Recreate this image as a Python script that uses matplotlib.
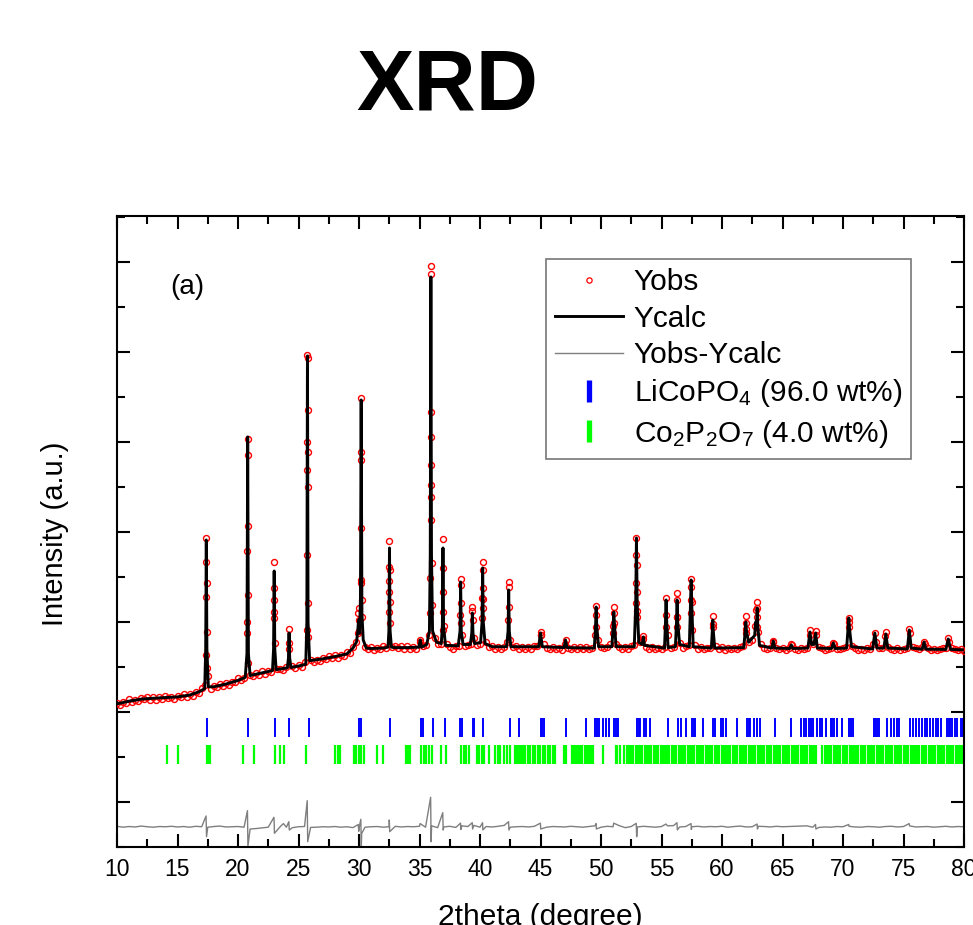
import numpy as np
import matplotlib
matplotlib.use("Agg")
import matplotlib.pyplot as plt
from matplotlib.lines import Line2D
from matplotlib.ticker import MultipleLocator

plt.rcParams['font.family'] = ['Liberation Sans', 'DejaVu Sans']
plt.rcParams['mathtext.fontset'] = 'custom'
plt.rcParams['mathtext.rm'] = 'Liberation Sans'
plt.rcParams['mathtext.it'] = 'Liberation Sans:italic'

# ---------------- data (2theta in degrees, intensity in counts) ----------------
# observed background points, one row per degree (x.00, x.25, x.50, x.75), from 10 to 80
obs_bg_counts = [
    2210, 2160, 2225, 2200,  # 10
    2285, 2230, 2265, 2235,  # 11
    2310, 2280, 2335, 2270,  # 12
    2335, 2275, 2325, 2290,  # 13
    2365, 2305, 2330, 2290,  # 14
    2360, 2335, 2395, 2335,  # 15
    2405, 2365, 2435, 2425,  # 16
    2525, 2600, 2800, 2500,  # 17
    2580, 2560, 2630, 2575,  # 18
    2650, 2605, 2675, 2655,  # 19
    2745, 2705, 2755, 4000,  # 20
    2825, 2810, 2875, 2825,  # 21
    2900, 2850, 2915, 2890,  # 22
    4750, 2960, 2960, 2930,  # 23
    3005, 3400, 3030, 2970,  # 24
    3050, 3010, 3120, 8700,  # 25
    3165, 3115, 3155, 3125,  # 26
    3205, 3180, 3245, 3190,  # 27
    3260, 3210, 3275, 3250,  # 28
    3335, 3320, 3450, 3560,  # 29
    3800, 4100, 3450, 3400,  # 30
    3440, 3380, 3430, 3395,  # 31
    3465, 3430, 4900, 3450,  # 32
    3455, 3420, 3470, 3400,  # 33
    3460, 3395, 3445, 3405,  # 34
    3550, 3470, 3480, 3700,  # 35
    5300, 3650, 3500, 3520,  # 36
    3900, 3500, 3445, 3410,  # 37
    3460, 3470, 3700, 3460,  # 38
    3480, 3500, 3650, 3480,  # 39
    3520, 4500, 3550, 3450,  # 40
    3460, 3400, 3440, 3410,  # 41
    3450, 3550, 3600, 3440,  # 42
    3460, 3405, 3450, 3395,  # 43
    3440, 3410, 3460, 3470,  # 44
    3700, 3520, 3420, 3395,  # 45
    3450, 3400, 3430, 3380,  # 46
    3520, 3430, 3400, 3445,  # 47
    3390, 3440, 3405, 3450,  # 48
    3400, 3430, 3700, 3600,  # 49
    3440, 3415, 3450, 3500,  # 50
    3900, 3500, 3450, 3410,  # 51
    3445, 3400, 3460, 3480,  # 52
    4250, 3550, 3620, 3440,  # 53
    3395, 3440, 3400, 3430,  # 54
    3395, 3450, 3700, 3430,  # 55
    3450, 4100, 3530, 3430,  # 56
    3460, 3480, 4450, 3480,  # 57
    3410, 3440, 3395, 3430,  # 58
    3420, 3950, 3460, 3400,  # 59
    3435, 3385, 3420, 3395,  # 60
    3430, 3400, 3450, 3460,  # 61
    3850, 3550, 3600, 3900,  # 62
    3780, 3500, 3420, 3400,  # 63
    3430, 3560, 3420, 3390,  # 64
    3430, 3380, 3420, 3480,  # 65
    3410, 3380, 3420, 3390,  # 66
    3430, 3700, 3500, 3700,  # 67
    3440, 3420, 3380, 3410,  # 68
    3430, 3500, 3400, 3390,  # 69
    3430, 3450, 4000, 3470,  # 70
    3420, 3380, 3410, 3375,  # 71
    3420, 3400, 3500, 3550,  # 72
    3430, 3430, 3680, 3440,  # 73
    3410, 3380, 3415, 3375,  # 74
    3410, 3420, 3750, 3450,  # 75
    3420, 3390, 3440, 3500,  # 76
    3420, 3380, 3410, 3370,  # 77
    3400, 3420, 3420, 3560,  # 78
    3420, 3400, 3370, 3395,  # 79
    3360,                    # 80
]

# observed points on the Bragg peaks
obs_peak_2theta = [
    17.38, 17.36, 17.40, 17.35, 17.41, 17.34, 17.43,
    20.80, 20.79, 20.81, 20.78, 20.82, 20.77, 20.84,
    22.99, 22.97, 23.01, 22.96, 23.03,
    24.22, 24.20,
    25.74, 25.75, 25.73, 25.76, 25.72, 25.77, 25.71, 25.78, 25.69, 25.80,
    29.96, 29.94, 29.98, 29.90,
    30.18, 30.17, 30.19, 30.16, 30.20, 30.15, 30.22,
    32.52, 32.51, 32.53, 32.50, 32.54, 32.49, 32.56,
    35.06,
    35.94, 35.95, 35.93, 35.96, 35.92, 35.97, 35.91, 35.98, 35.89, 36.00, 35.87,
    36.94, 36.93, 36.95, 36.92, 36.97,
    38.40, 38.39, 38.41, 38.38, 38.43,
    39.37, 39.36, 39.39,
    40.22, 40.21, 40.23, 40.20, 40.24, 40.19,
    42.37, 42.36, 42.39, 42.35,
    45.00, 45.02, 47.07,
    49.60, 49.59, 49.62,
    51.06, 51.05, 51.08, 51.03,
    52.93, 52.92, 52.94, 52.91, 52.95, 52.90, 52.97,
    53.50,
    55.38, 55.37, 55.40,
    56.29, 56.28, 56.31, 56.26,
    57.45, 57.44, 57.46, 57.43, 57.48,
    59.24, 59.26,
    61.97, 61.96, 61.99,
    62.78, 62.91, 62.90, 62.93, 62.88,
    64.24, 65.73, 67.27, 67.74, 69.20,
    70.48, 70.46, 72.63, 73.54, 75.48, 76.70, 78.70,
]
obs_peak_counts = [
    5866, 5333, 4866, 4555, 3778, 3266, 2977,
    8066, 7711, 6133, 5577, 4600, 3755, 3089,
    5333, 4489, 4229, 4081, 3533,
    3844, 3533,
    9933, 9866, 8000, 7777, 7377, 7000, 5489, 4422, 3822, 3666,
    4311, 4200, 4044, 3755,
    8984, 7784, 7600, 6089, 4933, 4866, 4489,
    5806, 5229, 5155, 4673, 4451, 4229, 3977,
    3600,
    11917, 11733, 8673, 8118, 7489, 7044, 6784, 6266, 4977, 4377, 4200,
    5844, 5193, 4673, 4229, 3822,
    4955, 4822, 4415, 4155, 3970,
    4326, 4251, 4044,
    5326, 5155, 4748, 4526, 4304, 4081,
    4881, 4785, 4340, 4044,
    3785, 3700, 3600,
    4355, 4155, 3896,
    4340, 4193, 3970, 3748,
    5859, 5489, 5266, 4859, 4673, 4415, 4118,
    3680,
    4526, 4155, 3896,
    4651, 4489, 4118, 3896,
    4948, 4785, 4489, 4193, 3822,
    4133, 3896,
    4133, 3970, 3748,
    4260, 4451, 4304, 4118, 3896,
    3584, 3500, 3822, 3800, 3540,
    4081, 3896, 3748, 3785, 3837, 3560, 3637,
]

# calculated profile
calc_2theta = [
    10.0, 11.0, 12.0, 13.0, 14.0, 15.0, 16.0, 16.8,
    17.25, 17.33, 17.38, 17.43, 17.55, 18.0, 19.0, 20.0, 20.6,
    20.74, 20.80, 20.86, 21.0, 22.0, 22.85,
    22.94, 22.99, 23.04, 23.15, 24.08,
    24.17, 24.22, 24.27, 24.38, 25.0, 25.6,
    25.69, 25.74, 25.79, 25.92, 27.0, 28.0, 29.0, 29.5, 29.8, 29.9,
    29.96, 30.04, 30.12, 30.18, 30.24, 30.35, 30.6, 31.0, 32.0, 32.4,
    32.47, 32.52, 32.57, 32.68, 33.0, 34.0, 34.95, 35.06, 35.17, 35.6,
    35.82, 35.89, 35.94, 35.99, 36.08, 36.4, 36.8,
    36.89, 36.94, 36.99, 37.15, 38.2,
    38.35, 38.40, 38.45, 38.6, 39.2,
    39.32, 39.37, 39.42, 39.55, 40.05,
    40.17, 40.22, 40.27, 40.42, 41.0, 42.2,
    42.32, 42.37, 42.42, 42.55, 44.85, 45.0, 45.15,
    46.95, 47.07, 47.19, 49.45,
    49.55, 49.60, 49.65, 49.8, 50.9,
    51.0, 51.06, 51.12, 51.25, 52.75,
    52.87, 52.93, 52.99, 53.12, 53.4, 53.5, 53.6, 55.25,
    55.33, 55.38, 55.43, 55.55, 56.15,
    56.24, 56.29, 56.34, 56.5, 57.3,
    57.40, 57.45, 57.50, 57.62, 59.12,
    59.20, 59.24, 59.28, 59.4, 61.8,
    61.92, 61.97, 62.02, 62.2, 62.7, 62.78, 62.85,
    62.91, 62.96, 63.1, 64.12, 64.24, 64.36,
    65.6, 65.73, 65.86, 67.1, 67.27, 67.4, 67.6, 67.74, 67.88,
    69.05, 69.2, 69.35, 70.3,
    70.42, 70.48, 70.54, 70.7, 72.45, 72.63, 72.8,
    73.38, 73.54, 73.7, 75.32, 75.48, 75.64,
    76.55, 76.7, 76.85, 78.5, 78.7, 78.9, 80.0,
]
calc_counts = [
    2180, 2240, 2285, 2305, 2320, 2335, 2375, 2450,
    2520, 3400, 5822, 3400, 2560, 2560, 2620, 2700, 2770,
    3300, 8111, 3300, 2810, 2870, 2920,
    3400, 5133, 3400, 2940, 2980,
    3200, 3755, 3200, 2990, 3020, 3060,
    4000, 9911, 4000, 3140, 3180, 3230, 3290, 3420, 3560, 3800,
    4044, 3750, 4500, 8933, 4200, 3600, 3420, 3410, 3420, 3440,
    3800, 5644, 3800, 3440, 3430, 3430, 3440, 3600, 3440, 3500,
    3800, 5500, 11666, 5500, 3800, 3550, 3520,
    3900, 5644, 3900, 3480, 3470,
    3800, 4888, 3800, 3500, 3500,
    3750, 4200, 3750, 3520, 3540,
    4000, 5200, 4000, 3520, 3450, 3450,
    3800, 4711, 3800, 3450, 3450, 3755, 3450,
    3430, 3600, 3430, 3420,
    3900, 4333, 3900, 3450, 3450,
    3900, 4222, 3900, 3450, 3450,
    4400, 5866, 4400, 3550, 3500, 3666, 3480, 3420,
    4000, 4489, 4000, 3430, 3450,
    4000, 4489, 4000, 3500, 3450,
    4400, 4933, 4400, 3450, 3420,
    3800, 4044, 3800, 3420, 3430,
    3800, 4000, 3800, 3550, 3700, 4000, 3900,
    4311, 3900, 3480, 3420, 3578, 3420,
    3410, 3489, 3410, 3420, 3778, 3500, 3500, 3755, 3420,
    3410, 3533, 3410, 3420,
    3850, 4089, 3850, 3450, 3400, 3755, 3420,
    3420, 3733, 3420, 3400, 3822, 3420,
    3395, 3555, 3395, 3390, 3622, 3390, 3380,
]

# difference curve: base points every 0.5 degree (10 values per 5 degrees) + spikes at peaks
diff_bg_counts = [
    -540, -560, -545, -555, -535, -550, -560, -545, -550, -540,   # 10-14.5
    -555, -545, -560, -540, -550, -560, -545, -535, -555, -550,   # 15-19.5
    -545, -560, -600, -590, -575, -560, -550, -545, -560, -570,   # 20-24.5
    -550, -545, -565, -560, -550, -555, -545, -560, -550, -570,   # 25-29.5
    -580, -560, -550, -545, -560, -550, -540, -555, -545, -550,   # 30-34.5
    -540, -560, -530, -570, -555, -540, -565, -530, -545, -520,   # 35-39.5
    -560, -545, -555, -540, -520, -560, -550, -545, -555, -540,   # 40-44.5
    -530, -560, -545, -550, -555, -540, -550, -560, -545, -530,   # 45-49.5
    -560, -540, -550, -525, -570, -545, -555, -540, -550, -560,   # 50-54.5
    -545, -530, -525, -555, -545, -550, -540, -555, -545, -550,   # 55-59.5
    -540, -560, -545, -535, -555, -550, -540, -545, -555, -540,   # 60-64.5
    -550, -545, -540, -535, -530, -560, -565, -555, -560, -545,   # 65-69.5
    -550, -540, -555, -560, -545, -550, -560, -545, -540, -555,   # 70-74.5
    -545, -530, -555, -550, -545, -560, -550, -540, -555, -545,   # 75-79.5
    -550,                                                         # 80
]
diff_spike_2theta = [
    17.36, 17.40, 20.78, 20.82, 22.97, 23.01, 23.75, 24.20, 24.24,
    25.72, 25.76, 29.94, 29.98, 30.15, 30.19, 30.22, 32.50, 32.54,
    35.05, 35.92, 35.96, 36.92, 36.96, 38.39, 38.42, 39.36, 39.39,
    40.21, 40.24, 42.36, 42.39, 44.99, 45.02, 49.59, 49.62, 51.05,
    52.91, 52.95, 55.37, 56.28, 56.31, 57.44, 57.47, 62.90, 62.93,
    67.73, 67.76, 70.47, 75.47,
]
diff_spike_counts = [
    -311, -771, -193, -980, -340, -696, -480, -438, -623,
    29, -882, -500, -650, -385, -990, -700, -400, -660,
    -480, 104, -882, -237, -623, -470, -610, -460, -600,
    -460, -620, -438, -623, -470, -600, -480, -600, -470,
    -474, -771, -490, -460, -620, -480, -610, -490, -600,
    -500, -600, -500, -480,
]

# Bragg reflection positions
licopo4_2theta = [
    17.42, 20.86, 23.07, 24.25, 25.83, 29.96, 30.15, 32.58, 35.12, 35.26,
    36.08, 37.07, 38.37, 38.54, 39.39, 39.53, 40.25, 42.45, 43.25, 45.04,
    45.15, 45.31, 47.11, 48.76, 49.53, 49.67, 49.81, 50.17, 50.44, 50.64,
    51.05, 51.20, 51.38, 52.98, 53.12, 53.26, 53.53, 53.75, 54.08, 55.52,
    56.37, 56.62, 57.03, 57.53, 57.66, 57.80, 58.44, 59.27, 59.46, 59.93,
    60.09, 60.29, 61.25, 62.08, 62.20, 62.35, 62.63, 62.90, 63.18, 64.42,
    65.72, 66.57, 66.77, 66.96, 67.18, 67.32, 67.51, 67.87, 68.09, 68.28,
    68.56, 68.97, 69.10, 69.25, 69.52, 69.94, 70.49, 70.63, 70.82, 72.56,
    72.67, 72.78, 72.97, 73.66, 73.93, 74.21, 74.43, 74.62, 75.53, 75.78,
    76.00, 76.28, 76.55, 76.75, 76.97, 77.19, 77.44, 77.66, 77.88, 78.07,
    78.62, 78.73, 78.84, 79.03, 79.25, 79.45, 79.72, 79.94,
]
co2p2o7_2theta = [
    14.11, 15.07, 17.47, 17.58, 17.69, 20.39, 21.33, 23.07, 23.43, 23.84,
    25.61, 28.03, 28.23, 28.39, 29.60, 29.77, 29.96, 30.15, 30.38, 31.48,
    31.97, 33.88, 34.01, 34.18, 35.15, 35.34, 35.56, 35.75, 36.03, 36.77,
    37.21, 38.45, 38.65, 38.84, 39.06, 39.75, 39.94, 40.16, 40.36, 40.71,
    41.26, 41.46, 41.68, 41.95, 42.23, 42.45, 42.92, 43.06, 43.20, 43.39,
    43.55, 43.75, 43.94, 44.16, 44.35, 44.57, 44.77, 44.99, 45.18, 45.40,
    45.59, 45.81, 46.02, 46.20, 46.92, 47.10, 47.60, 47.78, 47.95, 48.12,
    48.30, 48.47, 48.65, 48.83, 49.00, 49.18, 49.35, 50.17, 51.20, 51.35,
    51.55, 51.93, 52.12, 52.30, 52.49, 52.68, 52.86, 53.05, 53.24, 53.42,
    53.61, 53.80, 53.98, 54.17, 54.36, 54.54, 54.73, 54.92, 55.10, 55.29,
    55.48, 55.66, 55.85, 56.04, 56.22, 56.41, 56.60, 56.78, 56.97, 57.16,
    57.34, 57.53, 57.72, 57.90, 58.09, 58.28, 58.46, 58.65, 58.84, 59.02,
    59.21, 59.40, 59.58, 59.77, 59.96, 60.14, 60.33, 60.52, 60.70, 60.89,
    61.08, 61.26, 61.45, 61.64, 61.82, 62.01, 62.20, 62.38, 62.57, 62.76,
    62.94, 63.13, 63.32, 63.50, 63.70, 63.88, 64.07, 64.26, 64.44, 64.63,
    64.82, 65.00, 65.19, 65.38, 65.56, 65.75, 65.94, 66.12, 66.31, 66.50,
    66.68, 66.87, 67.06, 67.24, 67.43, 67.62, 67.80, 68.30, 68.48, 68.67,
    68.86, 69.04, 69.23, 69.42, 69.60, 69.79, 69.98, 70.16, 70.35, 70.54,
    70.72, 70.91, 71.10, 71.28, 71.47, 71.66, 71.84, 72.03, 72.22, 72.40,
    72.59, 72.78, 72.96, 73.15, 73.34, 73.52, 73.71, 73.90, 74.08, 74.27,
    74.46, 74.64, 74.83, 75.02, 75.20, 75.39, 75.58, 75.76, 75.95, 76.14,
    76.32, 76.51, 76.70, 76.88, 77.07, 77.26, 77.44, 77.63, 77.82, 78.00,
    78.19, 78.38, 78.56, 78.75, 78.94, 79.12, 79.31, 79.50, 79.68, 79.87,
]

legend_labels = ['Yobs', 'Ycalc', 'Yobs-Ycalc',
                 r'LiCoPO$_{\mathregular{4}}$ (96.0 wt%)',
                 r'Co$_{\mathregular{2}}$P$_{\mathregular{2}}$O$_{\mathregular{7}}$ (4.0 wt%)']
x_tick_values = [10, 15, 20, 25, 30, 35, 40, 45, 50, 55, 60, 65, 70, 75, 80]

# ---------------- assemble series ----------------
obs_bg_2theta = np.arange(10.0, 80.001, 0.25)[:len(obs_bg_counts)]
obs_x = np.concatenate([obs_bg_2theta, obs_peak_2theta])
obs_y = np.concatenate([obs_bg_counts, obs_peak_counts])
order = np.argsort(obs_x, kind='stable')
obs_x, obs_y = obs_x[order], obs_y[order]

diff_bg_2theta = np.arange(10.0, 80.001, 0.5)[:len(diff_bg_counts)]
dx = np.concatenate([diff_bg_2theta, diff_spike_2theta])
dy = np.concatenate([diff_bg_counts, diff_spike_counts])
order = np.argsort(dx, kind='stable')
dx, dy = dx[order], dy[order]

# ---------------- figure ----------------
W, H = 973, 925
fig = plt.figure(figsize=(W / 100, H / 100), dpi=100)
fig.patch.set_facecolor('white')
ax = fig.add_axes([117 / W, 1 - 847 / H, (964 - 117) / W, (847 - 216) / H])

ax.plot(dx, dy, color='#7f7f7f', lw=1.0, zorder=2)
ax.vlines(licopo4_2theta, 1444, 1867, color='#0000ff', lw=1.4, zorder=2)
ax.vlines(co2p2o7_2theta, 844, 1267, color='#00ff00', lw=1.6, zorder=2)
ax.plot(obs_x, obs_y, ls='none', marker='o', ms=4.3, mfc='none', mec='#ff0000',
        mew=1.0, zorder=3)
ax.plot(calc_2theta, calc_counts, color='black', lw=2.1, zorder=4)

ax.set_xlim(10, 80)
ax.set_ylim(-1000, 13020)
ax.xaxis.set_major_locator(MultipleLocator(5))
ax.xaxis.set_minor_locator(MultipleLocator(2.5))
ax.yaxis.set_major_locator(MultipleLocator(2000))
ax.yaxis.set_minor_locator(MultipleLocator(1000))
ax.set_xticks(x_tick_values)
ax.set_xticklabels([str(v) for v in x_tick_values])
ax.tick_params(which='both', direction='in', top=True, right=True, width=1.5,
               labelsize=16.5, labelleft=False, pad=8)
ax.tick_params(which='major', length=9.5)
ax.tick_params(which='minor', length=5.5)
for s in ax.spines.values():
    s.set_linewidth(1.5)

ax.set_xlabel('2theta (degree)', fontsize=21.5)
ax.xaxis.set_label_coords(0.5, -0.088)
ax.set_ylabel('Intensity (a.u.)', fontsize=21)
ax.yaxis.set_label_coords(-0.057, 0.496)

ax.text(0.0626, 0.8764, '(a)', transform=ax.transAxes, fontsize=20, va='baseline')

handles = [
    Line2D([], [], ls='none', marker='o', ms=3.8, mfc='none', mec='#ff0000', mew=0.9),
    Line2D([], [], color='black', lw=2.1),
    Line2D([], [], color='#7f7f7f', lw=1.0),
    Line2D([], [], ls='none', marker='|', ms=16, mew=3.8, color='#0000ff'),
    Line2D([], [], ls='none', marker='|', ms=16, mew=3.8, color='#00ff00'),
]
leg = ax.legend(handles, legend_labels, loc='upper left', bbox_to_anchor=(0.506, 0.9314),
                fontsize=21.5, frameon=True, fancybox=False, edgecolor='#555555',
                handlelength=2.3, handletextpad=0.35, labelspacing=0.28,
                borderpad=0.3, borderaxespad=0.0)
leg.get_frame().set_linewidth(1.2)

fig.text(447 / W, 1 - 109 / H, 'XRD', fontsize=62, fontweight='bold',
         ha='center', va='baseline')

fig.savefig('out.png', dpi=100, facecolor='white')
